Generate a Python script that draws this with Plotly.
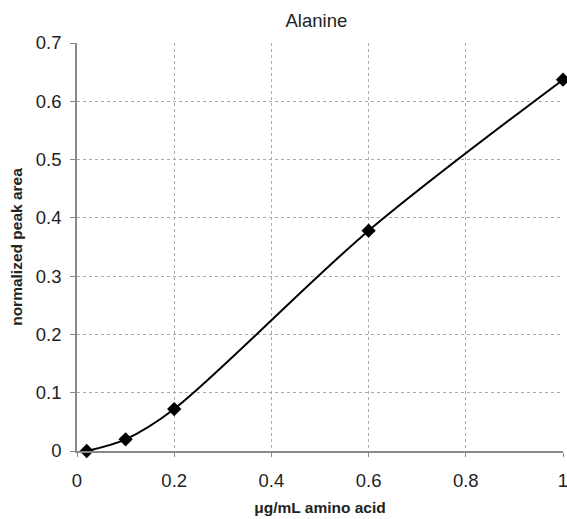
import plotly.graph_objects as go

concentration = [0.02, 0.1, 0.2, 0.6, 1.0]
peak_area = [0.0, 0.02, 0.072, 0.378, 0.637]
x_ticks = [0, 0.2, 0.4, 0.6, 0.8, 1]
x_tick_labels = ["0", "0.2", "0.4", "0.6", "0.8", "1"]
y_ticks = [0, 0.1, 0.2, 0.3, 0.4, 0.5, 0.6, 0.7]
y_tick_labels = ["0", "0.1", "0.2", "0.3", "0.4", "0.5", "0.6", "0.7"]

fig = go.Figure()
fig.add_trace(go.Scatter(
    x=concentration, y=peak_area, mode="lines+markers",
    line=dict(color="black", width=2, shape="spline", smoothing=0.9),
    marker=dict(symbol="diamond", size=11, color="black"),
    cliponaxis=False, showlegend=False,
))

font = "Liberation Sans, Arial, sans-serif"
fig.update_layout(
    width=567, height=519,
    margin=dict(l=77, r=4, t=43, b=68),
    paper_bgcolor="white", plot_bgcolor="white",
    font=dict(family=font, color="#222"),
    title=dict(text="Alanine", x=0.558, xanchor="center", y=0.96, yanchor="middle",
               font=dict(size=18.5, family=font, color="#222")),
    xaxis=dict(range=[0, 1], tickvals=x_ticks, ticktext=x_tick_labels,
               showgrid=True, gridcolor="#aaa", griddash="dot", gridwidth=1,
               showline=True, linecolor="#888", linewidth=1.5,
               ticks="outside", ticklen=4, tickcolor="#888",
               tickfont=dict(size=18.5, family=font, color="#222"),
               ticklabelstandoff=8, ticklabeloverflow="allow",
               zeroline=False, mirror=False, automargin=False,
               title=dict(text="<b>μg/mL amino acid</b>", standoff=12,
                          font=dict(size=15.5, family=font, color="#222"))),
    yaxis=dict(range=[0, 0.7], tickvals=y_ticks, ticktext=y_tick_labels,
               showgrid=True, gridcolor="#aaa", griddash="dot", gridwidth=1,
               showline=True, linecolor="#888", linewidth=1.5,
               ticks="outside", ticklen=5, tickcolor="#888",
               tickfont=dict(size=18.5, family=font, color="#222"),
               ticklabelstandoff=5, ticklabeloverflow="allow",
               zeroline=False, automargin=False,
               title=dict(text="<b>normalized peak area</b>", standoff=9,
                          font=dict(size=15.5, family=font, color="#222"))),
)
fig.write_html("out.html", post_script="document.body.style.margin='0';",
               config={"displayModeBar": False})
